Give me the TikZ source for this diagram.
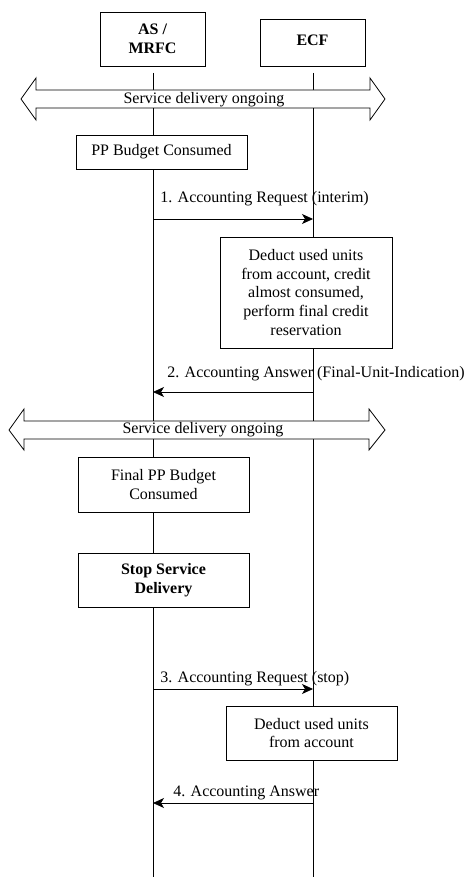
\documentclass[tikz,border=0pt]{standalone}
\usepackage{fontspec}
\setmainfont{Liberation Serif}
\usetikzlibrary{arrows.meta}
\begin{document}
\begin{tikzpicture}[x=1pt,y=-1pt,line width=0.8pt,
  every node/.style={font=\fontsize{16}{18.8}\selectfont},
  box/.style={draw,fill=white,inner sep=0pt,align=center},
  msg/.style={-{Stealth[length=11pt,width=10pt,inset=3pt]}},
  lbl/.style={anchor=base west,inner sep=0pt},
  band/.style={draw,fill=white,line width=0.8pt}]
\useasboundingbox (0,0) rectangle (470,877);
% entities
\node[box,minimum width=105pt,minimum height=54pt,font=\fontsize{16}{18.8}\selectfont\bfseries] (as) at (152.5,39) {AS /\\MRFC};
\node[box,minimum width=105pt,minimum height=47pt,font=\fontsize{16}{18.8}\selectfont\bfseries] (ecf) at (312.5,42.5) {\raisebox{5pt}{ECF}};
% lifelines
\coordinate (asTop) at (153,73);
\coordinate (asBot) at (153,877);
\coordinate (ecfTop) at (313,73);
\coordinate (ecfBot) at (313,877);
\draw (asTop) -- (asBot);
\draw (ecfTop) -- (ecfBot);
% service delivery bands
\draw[band] (21,99) -- (36,78) -- (36,90) -- (370,90) -- (370,78) -- (385,99)
  -- (370,120) -- (370,108) -- (36,108) -- (36,120) -- cycle;
\node[anchor=base,inner sep=0pt] (sd1) at (204,104) {Service delivery ongoing};
\draw[band] (9,430) -- (24,409) -- (24,421) -- (369,421) -- (369,409) -- (385,430)
  -- (369,450) -- (369,439) -- (24,439) -- (24,450) -- cycle;
\node[anchor=base,inner sep=0pt] (sd2) at (203,433) {Service delivery ongoing};
% boxes on lifelines
\node[box,minimum width=171pt,minimum height=34pt] (pp) at (161.5,152) {PP Budget Consumed};
\node[box,minimum width=172pt,minimum height=111pt] (ded1) at (306,292.5)
  {Deduct used units\\from account, credit\\almost consumed,\\perform final credit\\reservation};
\node[box,minimum width=171pt,minimum height=55pt] (fpp) at (163.5,484.5) {Final PP Budget\\Consumed};
\node[box,minimum width=171pt,minimum height=54pt,font=\fontsize{16}{18.8}\selectfont\bfseries] (stop) at (163.5,580) {Stop Service\\Delivery};
\node[box,minimum width=171pt,minimum height=54pt] (ded2) at (311.5,733) {Deduct used units\\from account};
% messages
\coordinate (m1a) at (153,219); \coordinate (m1b) at (313,219);
\coordinate (m2a) at (313,392); \coordinate (m2b) at (153,392);
\coordinate (m3a) at (153,689); \coordinate (m3b) at (313,689);
\coordinate (m4a) at (313,803); \coordinate (m4b) at (153,803);
\draw[msg] (m1a) -- (m1b);
\draw[msg] (m2a) -- (m2b);
\draw[msg] (m3a) -- (m3b);
\draw[msg] (m4a) -- (m4b);
\node[lbl] (l1) at (160,203) {1. Accounting Request (interim)};
\node[lbl] (l2) at (167,377) {2. Accounting Answer (Final-Unit-Indication)};
\node[lbl] (l3) at (160,682) {3. Accounting Request (stop)};
\node[lbl] (l4) at (173,796) {4. Accounting Answer};
\end{tikzpicture}
\end{document}
